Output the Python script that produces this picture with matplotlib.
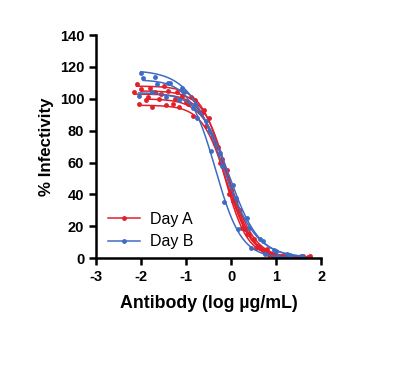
import numpy as np
import matplotlib.pyplot as plt

plt.rcParams['font.family'] = ['Liberation Sans', 'DejaVu Sans']
plt.rcParams['axes.unicode_minus'] = False

# Day A replicates: concentrations (log ug/mL) and % infectivity
a_x = [
    [-2.1, -1.8, -1.5, -1.2, -0.9, -0.6, -0.3, 0.0, 0.3, 0.6, 0.9, 1.2, 1.5],
    [-2.0, -1.7, -1.4, -1.1, -0.8, -0.5, -0.2, 0.1, 0.4, 0.7, 1.0, 1.3, 1.6],
    [-2.15, -1.85, -1.55, -1.25, -0.95, -0.65, -0.35, -0.05, 0.25, 0.55, 0.85, 1.15, 1.45, 1.75],
    [-1.9, -1.6, -1.3, -1.0, -0.7, -0.4, -0.1, 0.2, 0.5, 0.8, 1.1, 1.4, 1.7],
    [-2.05, -1.75, -1.45, -1.15, -0.85, -0.55, -0.25, 0.05, 0.35, 0.65, 0.95, 1.25, 1.55],
]
a_y = [
    [109, 107, 108, 104, 101, 93, 70, 43, 18, 7.5, 2, 1, 0.5],
    [106, 104, 105, 102, 99, 88, 62, 36, 15, 5, 2, 0.5, 1.2],
    [104, 101, 103, 100, 97, 91, 72, 40, 19, 6, 2, 1.2, 0.3, 1.5],
    [99, 100, 97, 98, 92, 76, 55, 30, 12, 5.5, 1.5, 0.5, 0.8],
    [97, 95, 96, 95, 89, 83, 60, 36, 15, 6.5, 2, 1, 0.4],
]
# Day B replicates
b_x = [
    [-2.0, -1.7, -1.4, -1.1, -0.8, -0.5, -0.2, 0.1, 0.4, 0.7, 1.0, 1.3, 1.6],
    [-1.95, -1.65, -1.35, -1.05, -0.75, -0.45, -0.15, 0.15, 0.45, 0.75, 1.05, 1.35],
    [-2.05, -1.75, -1.45, -1.15, -0.85, -0.55, -0.25, 0.05, 0.35, 0.65, 0.95, 1.25, 1.55],
]
b_y = [
    [116, 114, 110, 107, 97, 80, 58, 38, 19, 11, 4.5, 2, 0.8],
    [113, 109, 110, 104, 88, 67, 35, 18, 6, 2.5, 1.2, 0.4],
    [102, 104, 101, 99, 94, 86, 66, 46, 25, 12, 5, 2.5, 1],
]

# 4PL fit parameters per replicate: top, bottom, logIC50, hill slope
fit_a = [
    (108, 0.0, -0.12, 1.6),
    (105, 0.0, -0.08, 1.6),
    (103, 0.5, -0.15, 1.7),
    (100, 0.0, -0.05, 1.5),
    (96, 0.5, -0.10, 1.6),
]
fit_b = [
    (118, 0.0, -0.20, 1.15),
    (112, 0.0, -0.35, 1.5),
    (104, 0.5, -0.05, 1.3),
]

red = '#e0202a'
blue = '#3d6cc4'


def four_pl(x, top, bottom, ic50, hill):
    return bottom + (top - bottom) / (1 + 10 ** ((x - ic50) * hill))


fig = plt.figure(figsize=(4.07, 3.66), dpi=100)
ax = fig.add_axes([0.236, 0.295, 0.553, 0.609])

for xv, yv, p in zip(a_x, a_y, fit_a):
    xs = np.linspace(min(xv), max(xv), 200)
    ax.plot(xs, four_pl(xs, *p), color=red, lw=1.1)
    ax.plot(xv, yv, 'o', color=red, ms=3.5, mew=0)
for xv, yv, p in zip(b_x, b_y, fit_b):
    xs = np.linspace(min(xv), max(xv), 200)
    ax.plot(xs, four_pl(xs, *p), color=blue, lw=1.1)
    ax.plot(xv, yv, 'o', color=blue, ms=3.5, mew=0)

# legend handles
ax.plot([], [], '-o', color=red, ms=3.5, mew=0, lw=1.1, label='Day A')
ax.plot([], [], '-o', color=blue, ms=3.5, mew=0, lw=1.1, label='Day B')
ax.legend(loc='lower left', bbox_to_anchor=(-0.01, -0.025), frameon=False,
          fontsize=11.5, handlelength=2.0, labelspacing=0.45, handletextpad=0.6)

ax.set_xlim(-3, 2)
ax.set_ylim(0, 140)
ax.set_xticks([-3, -2, -1, 0, 1, 2])
ax.set_yticks(range(0, 141, 20))
for s in ['top', 'right']:
    ax.spines[s].set_visible(False)
for s in ['left', 'bottom']:
    ax.spines[s].set_linewidth(1.8)
ax.tick_params(width=1.8, length=5, labelsize=10.5, direction='out')
for lab in ax.get_xticklabels() + ax.get_yticklabels():
    lab.set_fontweight('bold')
ax.set_xlabel('Antibody (log µg/mL)', fontsize=12.8, fontweight='bold', labelpad=8)
ax.set_ylabel('% Infectivity', fontsize=12.2, fontweight='bold', labelpad=4)

fig.savefig('out.png', dpi=100)
